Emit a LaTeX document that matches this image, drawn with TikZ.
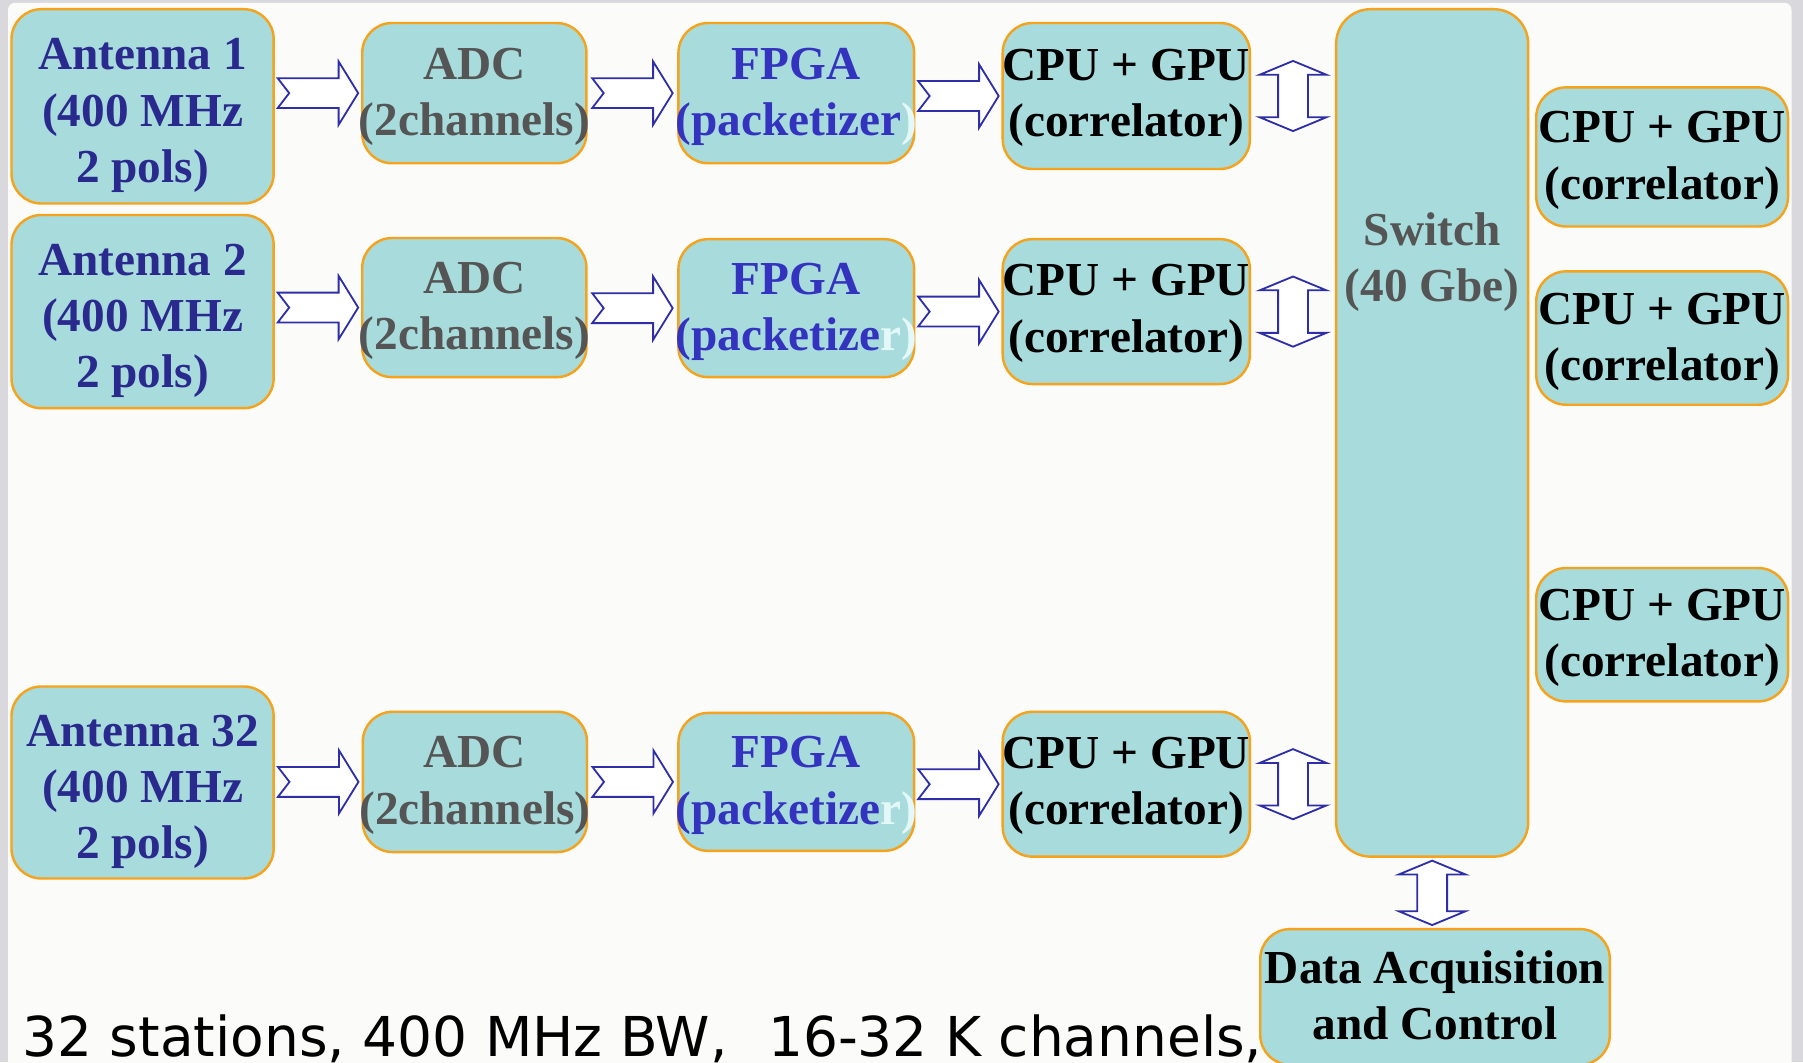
\documentclass[tikz,border=0pt]{standalone}
\usepackage{fontspec}
\setmainfont{Liberation Serif}
\newfontfamily\comicfont{DejaVu Sans}
\usetikzlibrary{calc}
\definecolor{boxfill}{HTML}{A8DBDB}
\definecolor{boxline}{HTML}{F5A21C}
\definecolor{antblue}{HTML}{2A2A8E}
\definecolor{fpgablue}{HTML}{3333BF}
\definecolor{txtgray}{HTML}{555555}
\definecolor{arrowblue}{HTML}{2E2EA8}
\definecolor{pagebg}{HTML}{FBFBF9}
\definecolor{framegray}{HTML}{D9D9DD}
\definecolor{ghost}{HTML}{E4F8F8}
\tikzset{
  blk/.style={draw=boxline, fill=boxfill, line width=0.6pt, rounded corners=2.6mm, inner sep=0pt},
  txt/.style={inner sep=0pt, align=center, font=\fontsize{11.7}{13.9}\selectfont\bfseries},
  antbox/.style={blk, minimum width=22.8mm},
  adcbox/.style={blk, minimum width=19.5mm},
  fpgabox/.style={blk, minimum width=20.5mm},
  cpubox/.style={blk, minimum width=21.5mm},
  rcpubox/.style={blk, minimum width=21.9mm},
  arrowline/.style={draw=arrowblue, fill=white, line width=0.45pt, line join=miter},
  harrow/.pic={\draw[arrowline] (-35,-13) -- (18,-13) -- (18,-27.5) -- (35,0) -- (18,27.5)
      -- (18,13) -- (-35,13) -- (-25,0) -- cycle;},
  varrow/.pic={\draw[arrowline] (0,-#1) -- (29,-#1+12) -- (13,-#1+12) -- (13,#1-12)
      -- (29,#1-12) -- (0,#1) -- (-29,#1-12) -- (-13,#1-12) -- (-13,-#1+12)
      -- (-29,-#1+12) -- cycle;},
}
\begin{document}
\begin{tikzpicture}[x=0.1mm, y=-0.1mm]
\useasboundingbox (0,0) rectangle (1568,924);
\clip (0,0) rectangle (1568,924);
% page
\fill[framegray] (0,0) rectangle (1568,924);
\fill[pagebg, rounded corners=0.6mm] (7,2.5) rectangle (1558,960);
% row 1
\node[antbox, minimum height=16.9mm] (ant1) at (124,92.5) {};
\node[fpgabox, minimum height=12.2mm] (fpga1) at (692.5,81) {};
\node[adcbox, minimum height=12.2mm] (adc1) at (412.5,81) {};
\node[cpubox, minimum height=12.7mm] (cpu1) at (979.5,83.5) {};
% row 2
\node[antbox, minimum height=16.8mm] (ant2) at (124,271) {};
\node[adcbox, minimum height=12.1mm] (adc2) at (412.5,267.5) {};
\node[fpgabox, minimum height=12.0mm] (fpga2) at (692.5,268) {};
\node[cpubox, minimum height=12.6mm] (cpu2) at (979.5,271) {};
% row 32
\node[antbox, minimum height=16.7mm] (ant32) at (124,680.5) {};
\node[adcbox, minimum height=12.2mm] (adc32) at (413,680) {};
\node[fpgabox, minimum height=12.0mm] (fpga32) at (692.5,680) {};
\node[cpubox, minimum height=12.6mm] (cpu32) at (979.5,682) {};
% switch
\node[blk, rounded corners=3mm, minimum width=16.7mm, minimum height=73.7mm] (sw) at (1245.5,376.5) {};
% right column correlators
\node[rcpubox, minimum height=12.1mm] (rc1) at (1445.5,136.5) {};
\node[rcpubox, minimum height=11.6mm] (rc2) at (1445.5,294) {};
\node[rcpubox, minimum height=11.6mm] (rc3) at (1445.5,552) {};
% data acquisition
\node[blk, minimum width=30.4mm, minimum height=11.8mm] (daq) at (1248,867) {};
% texts
\foreach \n/\t in {ant1/Antenna 1, ant2/Antenna 2, ant32/Antenna 32}
  \node[txt, text=antblue] (\n t) at ($(\n)+(0,8)$) {\t\\(400 MHz\\2 pols)};
\foreach \n in {adc1, adc2, adc32}
  \node[txt, text=txtgray] (\n t) at ($(\n)+(0,3)$) {ADC\\(2channels)};
\node[txt, text=fpgablue] (fpga1t) at ($(fpga1)+(0,3)$) {FPGA\\(packetizer\textcolor{ghost}{)}};
\node[txt, text=fpgablue] (fpga2t) at ($(fpga2)+(0,3)$) {FPGA\\(packetize\textcolor{ghost}{r)}};
\node[txt, text=fpgablue] (fpga32t) at ($(fpga32)+(0,3)$) {FPGA\\(packetize\textcolor{ghost}{r)}};
\foreach \n in {cpu1, cpu2, cpu32}
  \node[txt] (\n t) at ($(\n)+(0,1.5)$) {CPU + GPU\\(correlator)};
\foreach \n in {rc1, rc2, rc3}
  \node[txt] (\n t) at ($(\n)+(0,3)$) {CPU + GPU\\(correlator)};
\node[txt, text=txtgray] (swt) at (1245.5,228) {Switch\\(40 Gbe)};
\node[txt] (daqt) at ($(daq)+(0,-1.5)$) {Data Acquisition\\and Control};
% horizontal arrows
\foreach \a/\b in {ant1/adc1, adc1/fpga1, fpga1/cpu1, ant2/adc2, adc2/fpga2, fpga2/cpu2, ant32/adc32, adc32/fpga32, fpga32/cpu32}
  \pic at ($(\a.east |- \b.west)!0.5!(\b.west)$) {harrow};
% vertical double arrows
\foreach \c in {cpu1, cpu2, cpu32}
  \pic at ($(\c.east)!0.5!(sw.west |- \c.east)$) {varrow=30.5};
\pic at ($(sw.south)!0.5!(daq.north -| sw.south)$) {varrow=28};
% caption
\node[anchor=base west, inner sep=0pt, font=\comicfont\fontsize{13.6}{16}\selectfont] (note) at (19,919) {32 stations, 400 MHz BW,\hspace{10pt}16-32 K channels,};
\end{tikzpicture}
\end{document}
